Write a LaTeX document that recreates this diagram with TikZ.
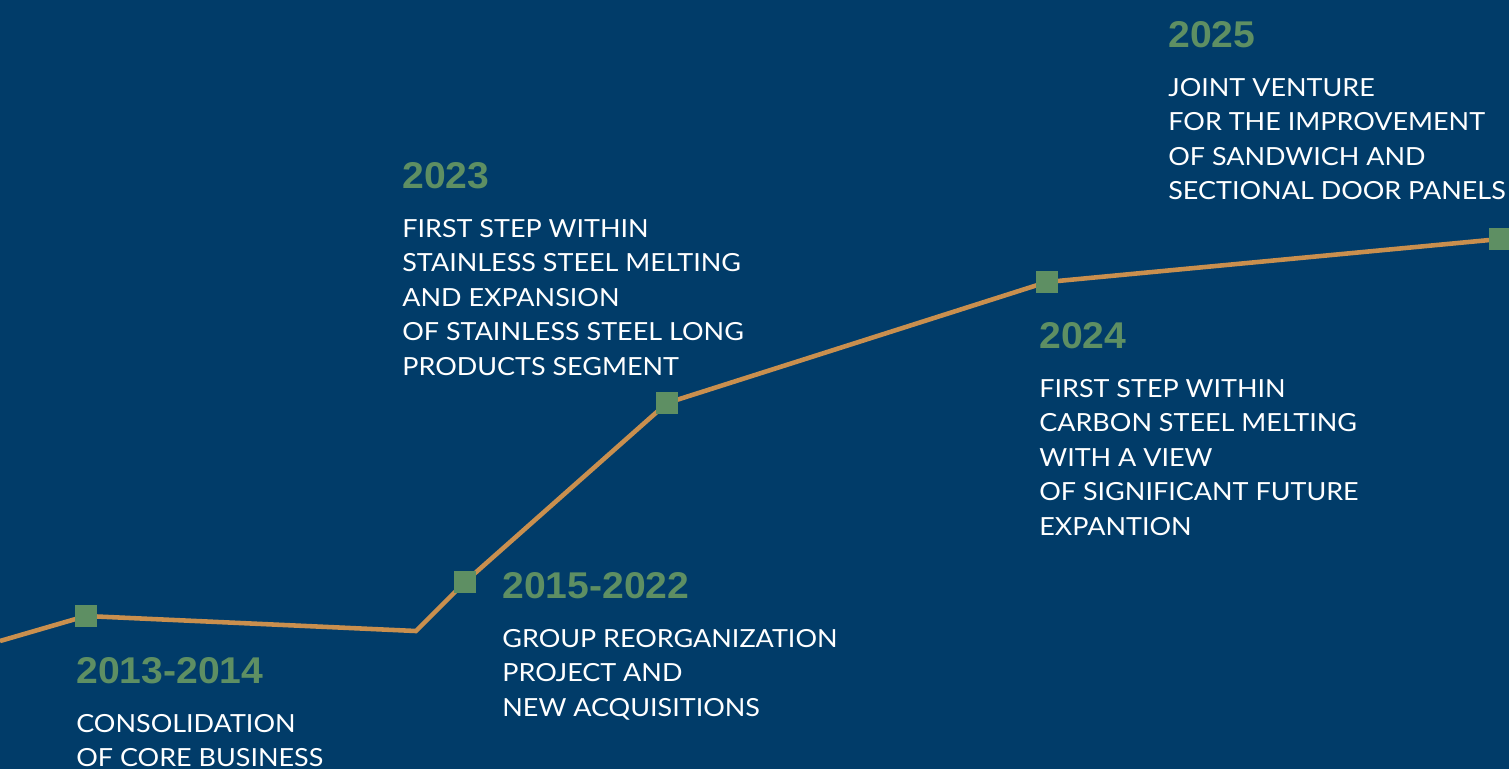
\documentclass[tikz,border=0pt]{standalone}
\usepackage{fontspec}
\setmainfont{Lato}[FakeStretch=1.08]
\newfontfamily\yearfont{Liberation Sans}[FakeStretch=1.05]
\usetikzlibrary{positioning}
\definecolor{navy}{HTML}{013C69}
\definecolor{trailorange}{HTML}{C98F4E}
\definecolor{markgreen}{HTML}{5E8F63}

\begin{document}
\begin{tikzpicture}[x=0.02cm,y=-0.02cm,
    year node/.style={anchor=base west,inner sep=0pt,text=markgreen,font=\yearfont\bfseries\fontsize{21.2}{24}\selectfont},
    text node/.style={anchor=north west,align=left,inner sep=0pt,text=white,font=\fontsize{14.2}{19.6}\selectfont},
    mark node/.style={rectangle,fill=markgreen,minimum size=13pt,inner sep=0pt},
    trail/.style={draw=trailorange,line width=2.6pt,line join=miter}]
  \useasboundingbox (0,0) rectangle (1509,769);
  \fill[navy] (0,0) rectangle (1509,769);
  \clip (0,0) rectangle (1509,769);
  % points of the trail
  \coordinate (p0) at (0,641);
  \coordinate (p1) at (86,616);
  \coordinate (c1) at (416,631);
  \coordinate (p2) at (465,582);
  \coordinate (p3) at (667,403);
  \coordinate (p4) at (1047,282);
  \coordinate (p5) at (1500,239);
  \path[trail] (p0) -- (p1) -- (c1) -- (p2) -- (p3) -- (p4) -- (p5);
  \node[mark node] (m1) at (p1) {};
  \node[mark node] (m2) at (p2) {};
  \node[mark node] (m3) at (p3) {};
  \node[mark node] (m4) at (p4) {};
  \node[mark node] (m5) at (p5) {};
  % years and texts
  \node[year node] (y1) at (76,683) {2013-2014};
  \node[text node,below=0.62cm of y1.base west,anchor=north west] (t1) {CONSOLIDATION\\OF CORE BUSINESS};
  \node[year node] (y2) at (502,598) {2015-2022};
  \node[text node,below=0.62cm of y2.base west,anchor=north west] (t2) {GROUP REORGANIZATION\\PROJECT AND\\NEW ACQUISITIONS};
  \node[year node] (y3) at (402,188) {2023};
  \node[text node,below=0.62cm of y3.base west,anchor=north west] (t3) {FIRST STEP WITHIN\\STAINLESS STEEL MELTING\\AND EXPANSION\\OF STAINLESS STEEL LONG\\PRODUCTS SEGMENT};
  \node[year node] (y4) at (1039,348) {2024};
  \node[text node,below=0.62cm of y4.base west,anchor=north west] (t4) {FIRST STEP WITHIN\\CARBON STEEL MELTING\\WITH A VIEW\\OF SIGNIFICANT FUTURE\\EXPANTION};
  \node[year node] (y5) at (1168,47) {2025};
  \node[text node,below=0.62cm of y5.base west,anchor=north west] (t5) {JOINT VENTURE\\FOR THE IMPROVEMENT\\OF SANDWICH AND\\SECTIONAL DOOR PANELS};
\end{tikzpicture}
\end{document}
